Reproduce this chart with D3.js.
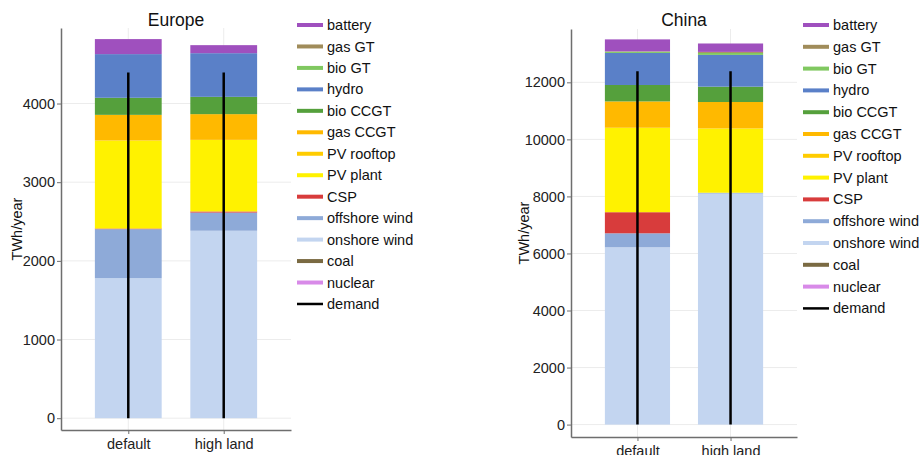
<!DOCTYPE html>
<html>
<head>
<meta charset="utf-8">
<script src="https://cdn.jsdelivr.net/npm/d3@7"></script>
<style>
  body { margin: 0; background: #fff; }
  svg { font-family: "Liberation Sans", Arial, sans-serif; }
</style>
</head>
<body>
<svg id="chart" width="922" height="455"></svg>
<script>
// stack order, bottom to top
const techs = ["nuclear", "coal", "onshore wind", "offshore wind", "CSP", "PV plant",
  "PV rooftop", "gas CCGT", "bio CCGT", "hydro", "bio GT", "gas GT", "battery"];
const techColors = ["#d88ae8", "#7a6a42", "#c3d5f0", "#8eaad8", "#d83c3c", "#fff200",
  "#ffcc00", "#ffb900", "#55a03c", "#5a80c8", "#80c860", "#a08c5a", "#9f50be"];
const scenarios = ["default", "high land"];

// TWh/year per technology, same order as techs
const europeDefault = [0, 0, 1780, 623, 8, 1119, 0, 326, 217, 555, 0, 0, 191];
const europeHighLand = [0, 0, 2383, 231, 14, 910, 0, 327, 220, 555, 0, 0, 102];
const chinaDefault = [0, 0, 6217, 490, 740, 2961, 0, 923, 576, 1124, 45, 10, 420];
const chinaHighLand = [0, 0, 8100, 30, 0, 2253, 0, 927, 538, 1114, 70, 35, 295];

const europeDemand = [4394, 4394];
const chinaDemand = [12385, 12385];

const europeTicks = [0, 1000, 2000, 3000, 4000];
const chinaTicks = [0, 2000, 4000, 6000, 8000, 10000, 12000];

const svg = d3.select("#chart");

let drawPanel = (opt) => {
  let g = svg.append("g");

  let x = d3.scalePoint().domain(scenarios).range([opt.left, opt.right]).padding(opt.pad);
  let y = d3.scaleLinear().domain(opt.domain).range([opt.bottom, opt.top]);
  let barW = x.step() * 0.7;

  // grid
  g.append("g")
    .selectAll("line.h")
    .data(opt.ticks)
    .enter()
    .append("line")
    .attr("x1", opt.left)
    .attr("x2", opt.right)
    .attr("y1", (d) => y(d))
    .attr("y2", (d) => y(d))
    .attr("stroke", "#ececec")
    .attr("stroke-width", 1);

  g.append("g")
    .selectAll("line.v")
    .data(scenarios)
    .enter()
    .append("line")
    .attr("x1", (d) => x(d))
    .attr("x2", (d) => x(d))
    .attr("y1", opt.top)
    .attr("y2", opt.bottom)
    .attr("stroke", "#ececec")
    .attr("stroke-width", 1);

  // stacked bars
  let rows = scenarios.map((s, i) => {
    let r = { scenario: s };
    techs.forEach((t, j) => (r[t] = opt.values[i][j]));
    return r;
  });
  let series = d3.stack().keys(techs)(rows);

  g.append("g")
    .selectAll("g")
    .data(series)
    .enter()
    .append("g")
    .attr("fill", (d, i) => techColors[i])
    .selectAll("rect")
    .data((d) => d.filter((p) => p[1] - p[0] > 0))
    .enter()
    .append("rect")
    .attr("x", (d) => x(d.data.scenario) - barW / 2)
    .attr("width", barW)
    .attr("y", (d) => y(d[1]))
    .attr("height", (d) => y(d[0]) - y(d[1]));

  // demand lines
  g.append("g")
    .selectAll("line")
    .data(opt.demand)
    .enter()
    .append("line")
    .attr("x1", (d, i) => x(scenarios[i]))
    .attr("x2", (d, i) => x(scenarios[i]))
    .attr("y1", y(0))
    .attr("y2", (d) => y(d))
    .attr("stroke", "#000")
    .attr("stroke-width", 2.5);

  // axes
  let yAxis = g.append("g")
    .attr("transform", `translate(${opt.left}, 0)`)
    .call(d3.axisLeft(y).tickValues(opt.ticks).tickSizeInner(4).tickSizeOuter(0)
      .tickPadding(2).tickFormat(d3.format("d")));
  let xAxis = g.append("g")
    .attr("transform", `translate(0, ${opt.bottom})`)
    .call(d3.axisBottom(x).tickSizeInner(4).tickSizeOuter(0).tickPadding(5));

  [yAxis, xAxis].forEach((a) => {
    a.select(".domain").attr("stroke", "#6e6e6e").attr("stroke-width", 1.5);
    a.selectAll(".tick line").attr("stroke", "#6e6e6e");
    a.selectAll(".tick text")
      .attr("font-size", 14.5)
      .attr("fill", "#222")
      .attr("font-family", "Liberation Sans, Arial, sans-serif");
  });

  // title and y label
  g.append("text")
    .text(opt.title)
    .attr("x", (opt.left + opt.right) / 2)
    .attr("y", 26)
    .attr("text-anchor", "middle")
    .attr("font-size", 17.5)
    .attr("fill", "#111");

  g.append("text")
    .text("TWh/year")
    .attr("transform", `translate(${opt.labelX}, ${(opt.top + opt.bottom) / 2}) rotate(-90)`)
    .attr("text-anchor", "middle")
    .attr("font-size", 14.5)
    .attr("fill", "#111");

  // legend
  let legendItems = techs.slice().reverse().map((t, i) => ({
    name: t,
    color: techColors[techs.length - 1 - i],
    w: 4
  }));
  legendItems.push({ name: "demand", color: "#000", w: 2.5 });

  let lg = g.append("g").attr("transform", `translate(${opt.legendX}, ${opt.legendY})`);
  let item = lg
    .selectAll("g")
    .data(legendItems)
    .enter()
    .append("g")
    .attr("transform", (d, i) => `translate(0, ${i * opt.legendStep})`);
  item
    .append("line")
    .attr("x1", 0)
    .attr("x2", 26)
    .attr("stroke", (d) => d.color)
    .attr("stroke-width", (d) => d.w);
  item
    .append("text")
    .text((d) => d.name)
    .attr("x", 30)
    .attr("dy", "0.35em")
    .attr("font-size", 14.5)
    .attr("fill", "#111");
};

drawPanel({
  title: "Europe",
  values: [europeDefault, europeHighLand],
  demand: europeDemand,
  ticks: europeTicks,
  domain: [-150, 4960],
  left: 61, right: 291, top: 28, bottom: 430, pad: 0.705,
  labelX: 22,
  legendX: 297, legendY: 25, legendStep: 21.46
});

drawPanel({
  title: "China",
  values: [chinaDefault, chinaHighLand],
  demand: chinaDemand,
  ticks: chinaTicks,
  domain: [-435, 13870],
  left: 571, right: 797, top: 29, bottom: 437, pad: 0.714,
  labelX: 529,
  legendX: 803, legendY: 25, legendStep: 21.8
});
</script>
</body>
</html>
